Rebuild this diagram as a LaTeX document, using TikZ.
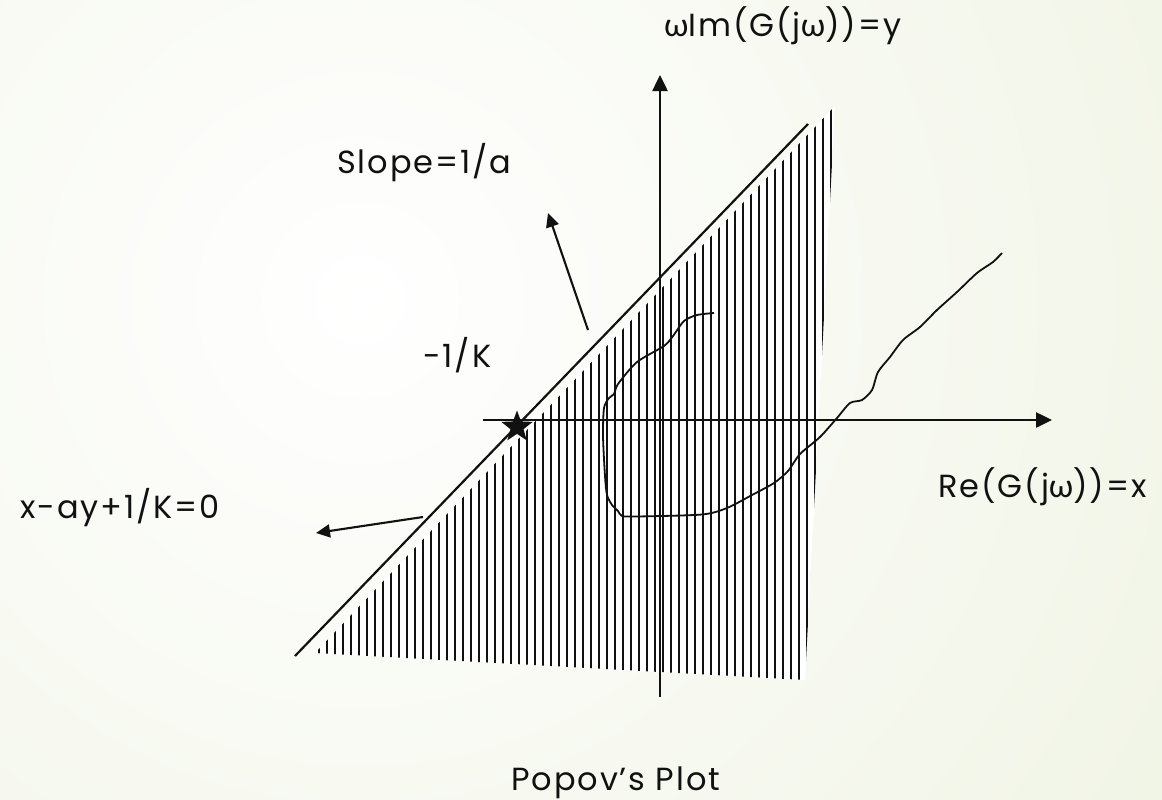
\documentclass[tikz,border=0pt]{standalone}
\usepackage{fontspec}
\setmainfont{Poppins}[LetterSpace=6]
\newfontfamily\grkfont{Lato}[LetterSpace=4]
\usetikzlibrary{arrows.meta, shapes.geometric}
\definecolor{ppGreen}{HTML}{E2EACC}
\definecolor{ppInk}{HTML}{111111}
\newcommand{\om}{{\grkfont ω}}
\tikzset{
  pplabel/.style={anchor=base west, inner sep=0pt, text=ppInk,
                  font=\fontsize{32}{36}\selectfont},
  ppaxis/.style={line width=2.5pt, draw=ppInk, -{Triangle[length=16pt, width=15pt]}},
  pppoint/.style={line width=2.1pt, draw=ppInk, -{Triangle[length=14pt, width=13pt]}},
  pphatch/.style={line width=2.6pt, draw=ppInk},
}

\begin{document}
\begin{tikzpicture}[x=1pt, y=-1pt]
  \useasboundingbox (0,0) rectangle (1162,800);
  \clip (0,0) rectangle (1162,800);
  % background
  \shade[inner color=white, outer color=ppGreen] (360,300) circle (1900);

  % points
  \coordinate (hA) at (315,653);
  \coordinate (hB) at (835,106);
  \coordinate (hC) at (805,680);
  \coordinate (lnLo) at (295,656);
  \coordinate (lnHi) at (808,124);
  \coordinate (xFrom) at (483,420);
  \coordinate (xTo) at (1052,420);
  \coordinate (yFrom) at (660,697);
  \coordinate (yTo) at (660,75);
  \coordinate (slFrom) at (588,330);
  \coordinate (slTo) at (548,213);
  \coordinate (eqFrom) at (423,517);
  \coordinate (eqTo) at (316,533);

  % hatched region
  \begin{scope}
    \clip (hA) -- (hB) -- (hC) -- cycle;
    \fill[white] (hA) -- (hB) -- (hC) -- cycle;
    \foreach \hx in {311,319,...,839} \draw[pphatch] (\hx,100) -- (\hx,690);
  \end{scope}

  % axes and line
  \draw[ppaxis] (xFrom) -- (xTo);
  \draw[ppaxis] (yFrom) -- (yTo);
  \draw[line width=2.2pt, draw=ppInk] (lnLo) -- (lnHi);
  \draw[pppoint] (slFrom) -- (slTo);
  \draw[pppoint] (eqFrom) -- (eqTo);

  % G(jw) locus
  \draw[line width=1.8pt, draw=ppInk, line join=round] plot[smooth, tension=0.45] coordinates {
    (714,313) (697,315) (684,321) (673,336) (664,346) (637,362) (618,384)
    (614,394) (609,398) (604,408) (603,436) (605,476) (607,495) (612,505)
    (618,511) (622,516) (637,516.5) (702,514.5) (727,508) (752,495)
    (774,483) (788,471) (800,454) (820,437) (837,418) (850,403) (862,400)
    (872,390) (878,372) (890,357) (903,340) (920,327) (937,310) (957,292)
    (977,273) (993,262) (1002,253)};

  \node[star, star points=5, star point ratio=2.4, fill=ppInk, minimum size=33pt,
        inner sep=0pt] (pole) at (517,427) {};

  % labels
  \node[pplabel] (imlab) at (664,37) {\om Im(G(j\om))=y};
  \node[pplabel] (slopelab) at (337,173) {Slope=1/a};
  \node[pplabel] (klab) at (423,367) {-1/K};
  \node[pplabel] (eqlab) at (20,518) {x-ay+1/K=0};
  \node[pplabel] (relab) at (938,497) {Re(G(j\om))=x};
  \node[pplabel] (title) at (511,790) {Popov’s Plot};
\end{tikzpicture}
\end{document}
